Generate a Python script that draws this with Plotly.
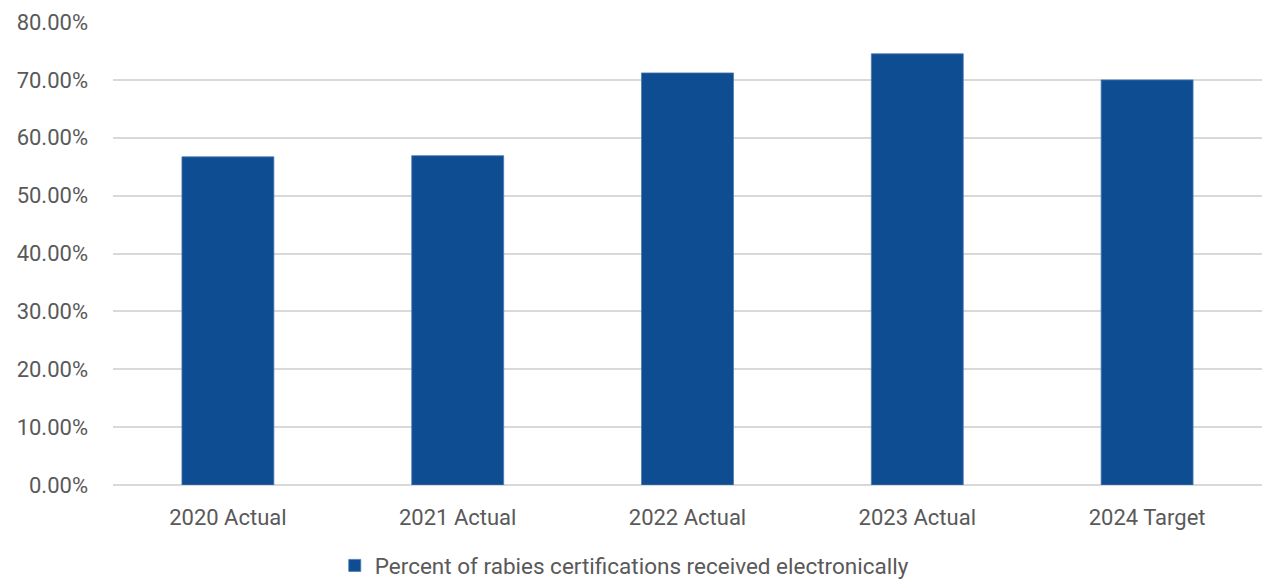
import plotly.graph_objects as go

categories = ["2020 Actual", "2021 Actual", "2022 Actual", "2023 Actual", "2024 Target"]
values = [0.567, 0.569, 0.712, 0.745, 0.70]
series_name = "Percent of rabies certifications received electronically"
y_ticks = [0, 0.1, 0.2, 0.3, 0.4, 0.5, 0.6, 0.7, 0.8]

fig = go.Figure()
fig.add_trace(go.Bar(
    x=categories, y=values, name=series_name,
    marker=dict(color="#0e4d92", line=dict(color="#4a78b0", width=0.8)),
    showlegend=True,
))

font_family = "Roboto, Liberation Sans, sans-serif"
fig.update_layout(
    width=1262, height=580,
    margin=dict(l=113, r=0, t=22, b=95, autoexpand=False),
    plot_bgcolor="white", paper_bgcolor="white",
    bargap=0.6,
    font=dict(family=font_family, size=22, color="#595959"),
    showlegend=True,
    legend=dict(orientation="h", x=0.193, xanchor="left", y=-0.128, yanchor="top",
                font=dict(size=22.5, color="#595959"), itemwidth=30),
    xaxis=dict(showline=False, ticks="", ticklabelstandoff=17, automargin=False,
               tickfont=dict(size=22, color="#595959")),
    yaxis=dict(range=[0, 0.8], tickvals=y_ticks, tickformat=".2%", automargin=False,
               showgrid=True, gridcolor="#d9d9d9", gridwidth=1.5,
               zeroline=True, zerolinecolor="#d9d9d9", zerolinewidth=1.5,
               ticks="", ticklabelstandoff=24,
               tickfont=dict(size=22, color="#595959")),
)
fig.write_html("out.html", config={"displayModeBar": False},
               post_script="document.body.style.margin='0';document.body.style.overflow='hidden';")
